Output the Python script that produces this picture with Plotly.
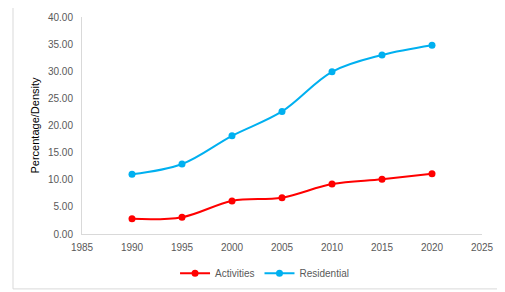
import plotly.graph_objects as go

years = [1990, 1995, 2000, 2005, 2010, 2015, 2020]
activities = [2.8, 3.1, 6.1, 6.7, 9.2, 10.1, 11.1]
residential = [11.0, 12.9, 18.1, 22.6, 29.9, 33.0, 34.8]

fig = go.Figure()
fig.add_trace(go.Scatter(x=years, y=activities, name="Activities", mode="lines+markers",
                         line=dict(color="#FF0000", width=2, shape="spline", smoothing=1.0),
                         marker=dict(color="#FF0000", size=7)))
fig.add_trace(go.Scatter(x=years, y=residential, name="Residential", mode="lines+markers",
                         line=dict(color="#00B0F0", width=2, shape="spline", smoothing=1.0),
                         marker=dict(color="#00B0F0", size=7)))

font = dict(family="Liberation Sans", size=10, color="#595959")
fig.update_layout(
    width=505, height=292,
    margin=dict(l=74, r=31, t=9, b=66, autoexpand=False),
    paper_bgcolor="white", plot_bgcolor="white",
    font=font,
    showlegend=True,
    legend=dict(orientation="h", xref="container", yref="container",
                x=0.508, xanchor="center", y=0.141, yanchor="top",
                itemwidth=30, tracegroupgap=0,
                font=dict(family="Liberation Sans", size=10, color="#595959")),
    xaxis=dict(range=[1985, 2025], dtick=5, tick0=1985, showgrid=False, zeroline=False,
               showline=True, linecolor="#D9D9D9", linewidth=1,
               ticks="outside", ticklen=4, tickcolor="rgba(0,0,0,0)",
               tickfont=font, fixedrange=True, automargin=False),
    yaxis=dict(range=[0, 40], dtick=5, tickformat=".2f", showgrid=False, zeroline=False,
               showline=True, linecolor="#D9D9D9", linewidth=1,
               ticks="outside", ticklen=6, tickcolor="rgba(0,0,0,0)",
               tickfont=font, fixedrange=True, automargin=False,
               title=dict(text="Percentage/Density", font=dict(family="Liberation Sans", size=11, color="#000000"), standoff=6)),
    shapes=[dict(type="rect", xref="paper", yref="paper", x0=-0.1725, x1=1.07, y0=-0.253, y1=1.0645,
                 line=dict(color="#D9D9D9", width=1), fillcolor="rgba(0,0,0,0)", layer="below")],
)
fig.write_html("out.html")
